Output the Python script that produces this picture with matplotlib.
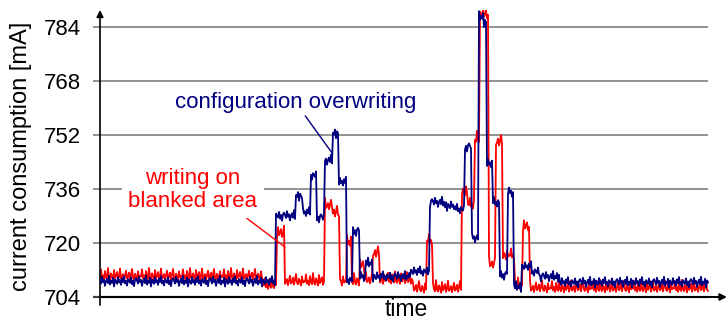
import numpy as np
import matplotlib
matplotlib.use('Agg')
import matplotlib.pyplot as plt

plt.rcParams['font.family'] = ['Liberation Sans', 'DejaVu Sans']

# step levels: (start time, current in mA)
blue_starts = [0, 176, 196, 203, 210.5, 217, 225, 232.5, 239, 246.5, 253, 259.5, 266, 273,
               310, 330, 345, 355, 364.5, 372, 379, 384, 387, 392.5, 400, 407.5, 414,
               422, 432, 440, 460]
blue_levels = [708.6, 728, 734, 729, 740, 727.5, 744.5, 752.5, 738, 709, 723.5, 710, 714, 710,
               711.5, 732, 731, 730, 748.5, 721.5, 787, 785.5, 743.5, 732, 710.5, 735, 707,
               713, 711.5, 710, 708.3]

red_starts = [0, 163, 177, 185, 225, 233, 240, 247, 252, 260, 265, 273, 280, 313, 327, 333,
              362, 368, 375, 380, 389, 396, 403, 415, 423, 430]
red_levels = [709.8, 707.2, 722.5, 708.3, 730.8, 728.5, 708.3, 720, 708.3, 713, 708.8, 716.5,
              708.8, 706.2, 720.3, 706.2, 735, 731, 750.5, 787.3, 713.5, 749.5, 716, 707,
              724.5, 706.3]

# measurement ripple (mA)
blue_jitter = [0.3, -0.6, 1.4, -0.2, 0.5, -1.3, 0.1, 0.8, -0.5, 1.7, -0.9, 0.2, -0.4, 1.1,
               -1.5, 0.6, 0.0, -0.7, 1.3, -0.3, 0.4, -1.0, 0.9, -0.2, 1.6, -0.6, 0.2, -1.2,
               0.7, 0.1, -0.4, 1.2, -0.8, 0.3, -1.4, 0.5, 1.0]
red_jitter = [0.2, 2.4, -0.3, 0.6, -0.8, 1.9, 0.1, -0.5, 2.8, 0.0, -0.6, 1.2, 0.4, -0.9,
              2.2, -0.2, 0.5, 1.6, -0.7, 0.3, 2.6, -0.4, 0.0, 1.0, -0.8, 0.6, 2.0, -0.3,
              0.2, 1.4, -0.6, 0.8, 2.5, -0.1, -0.5, 1.1, 0.3, -0.9, 1.8, 0.0, 0.4]

t_end = 608
yticks = [704, 720, 736, 752, 768, 784]


def trace(starts, levels, jitter, t):
    idx = np.searchsorted(starts, t, side='right') - 1
    return np.array(levels)[idx] + np.resize(jitter, len(t))


t = np.arange(0, t_end + 1, 1.0)
blue = trace(blue_starts, blue_levels, blue_jitter, t)
red = trace(red_starts, red_levels, red_jitter, t)

fig = plt.figure(figsize=(7.28, 3.21), dpi=100)
ax = fig.add_axes([100 / 728, 24 / 321, 627 / 728, 287 / 321])
ax.set_xlim(0, 627)
ax.set_ylim(704, 789.04)

ax.hlines(yticks[1:], -7, t_end, color='#808080', lw=1.2, clip_on=False, zorder=1)
ax.hlines(yticks[0], -7, t_end, color='#404040', lw=1.6, clip_on=False, zorder=1)

ax.plot(t, red, color='#ff0000', lw=1.3, zorder=3)
ax.plot(t, blue, color='#000080', lw=1.3, zorder=4)

for s in ax.spines.values():
    s.set_visible(False)
ax.annotate('', xy=(1, 0), xytext=(0, 0), xycoords='axes fraction',
            arrowprops=dict(arrowstyle='-|>', color='black', lw=1.4, mutation_scale=10,
                            shrinkA=0, shrinkB=0))
ax.annotate('', xy=(0, 1), xytext=(0, -0.028), xycoords='axes fraction',
            arrowprops=dict(arrowstyle='-|>', color='black', lw=1.2, mutation_scale=10,
                            shrinkA=0, shrinkB=0))

ax.set_xticks([])
ax.set_yticks(yticks)
ax.tick_params(axis='y', length=0, pad=14, labelsize=16)
ax.set_ylabel('current consumption [mA]', fontsize=17)
ax.yaxis.set_label_coords(-0.108, 0.49)
ax.set_xlabel('time', fontsize=16.5)
ax.xaxis.set_label_coords(0.488, -0.002)

ax.annotate('configuration overwriting', xy=(232, 746.7), xytext=(196, 761.6),
            fontsize=16, color='#000080', ha='center', va='center',
            arrowprops=dict(arrowstyle='-', color='#000080', lw=1, shrinkA=0, shrinkB=0,
                            relpos=(0.53, 0)), zorder=5)
ax.annotate('writing on\nblanked area', xy=(185, 718.8), xytext=(93, 735.7),
            fontsize=16, color='#ff0000', ha='center', va='center', linespacing=1.1,
            bbox=dict(boxstyle='square,pad=0.3', facecolor='white', edgecolor='none'),
            arrowprops=dict(arrowstyle='-', color='#ff0000', lw=1, shrinkA=0, shrinkB=0,
                            relpos=(0.85, 0)), zorder=5)

fig.savefig('out.png', dpi=100)
